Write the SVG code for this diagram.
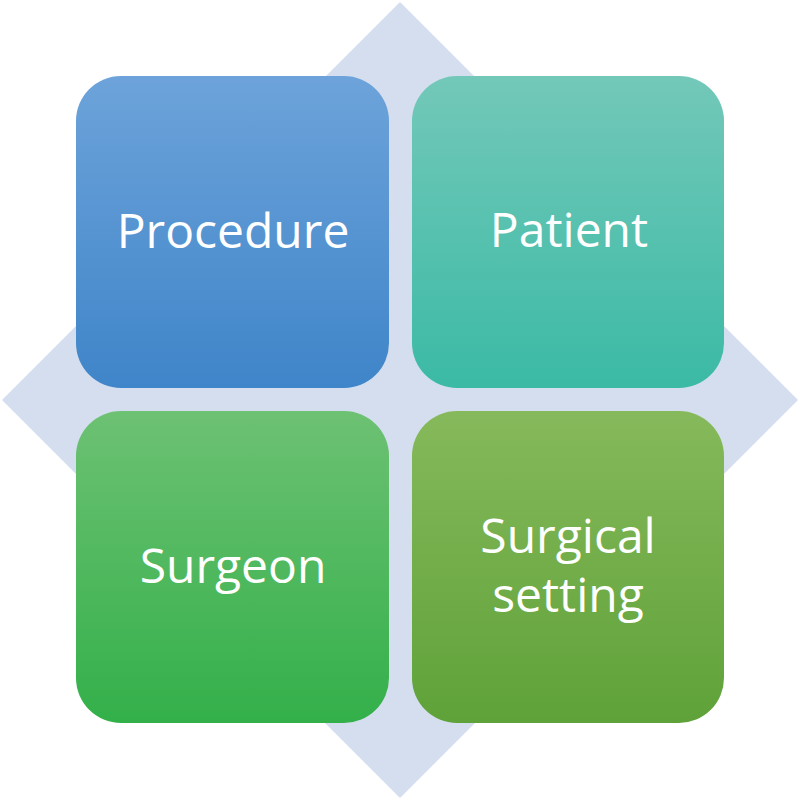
<svg xmlns="http://www.w3.org/2000/svg" width="800" height="800" viewBox="0 0 800 800">
<defs>
<linearGradient id="gP" x1="0" y1="0" x2="0" y2="1"><stop offset="0" stop-color="#6da3da"/><stop offset="1" stop-color="#3f85c9"/></linearGradient>
<linearGradient id="gA" x1="0" y1="0" x2="0" y2="1"><stop offset="0" stop-color="#73c8b9"/><stop offset="1" stop-color="#3bbaa5"/></linearGradient>
<linearGradient id="gS" x1="0" y1="0" x2="0" y2="1"><stop offset="0" stop-color="#6dc173"/><stop offset="1" stop-color="#33b04a"/></linearGradient>
<linearGradient id="gT" x1="0" y1="0" x2="0" y2="1"><stop offset="0" stop-color="#86b95b"/><stop offset="1" stop-color="#5fa239"/></linearGradient>
<style>
.lbl{font-family:"Open Sans","Liberation Sans",sans-serif;font-size:48px;fill:#ffffff;text-anchor:middle}
</style>
</defs>
<rect width="800" height="800" fill="#ffffff"/>
<polygon points="400,2 798,400 400,798 2,400" fill="#d4deee"/>
<g id="procedure">
<rect x="76" y="76" width="313" height="312" rx="45" fill="url(#gP)"/>
<text class="lbl" x="233" y="248">Procedure</text>
</g>
<g id="patient">
<rect x="412" y="76" width="312" height="312" rx="45" fill="url(#gA)"/>
<text class="lbl" x="569" y="247">Patient</text>
</g>
<g id="surgeon">
<rect x="76" y="411" width="313" height="312" rx="45" fill="url(#gS)"/>
<text class="lbl" x="233" y="583">Surgeon</text>
</g>
<g id="surgical-setting">
<rect x="412" y="411" width="312" height="312" rx="45" fill="url(#gT)"/>
<text class="lbl" x="568" y="553">Surgical</text>
<text class="lbl" x="568" y="612">setting</text>
</g>
<g id="connectors"></g>
</svg>
